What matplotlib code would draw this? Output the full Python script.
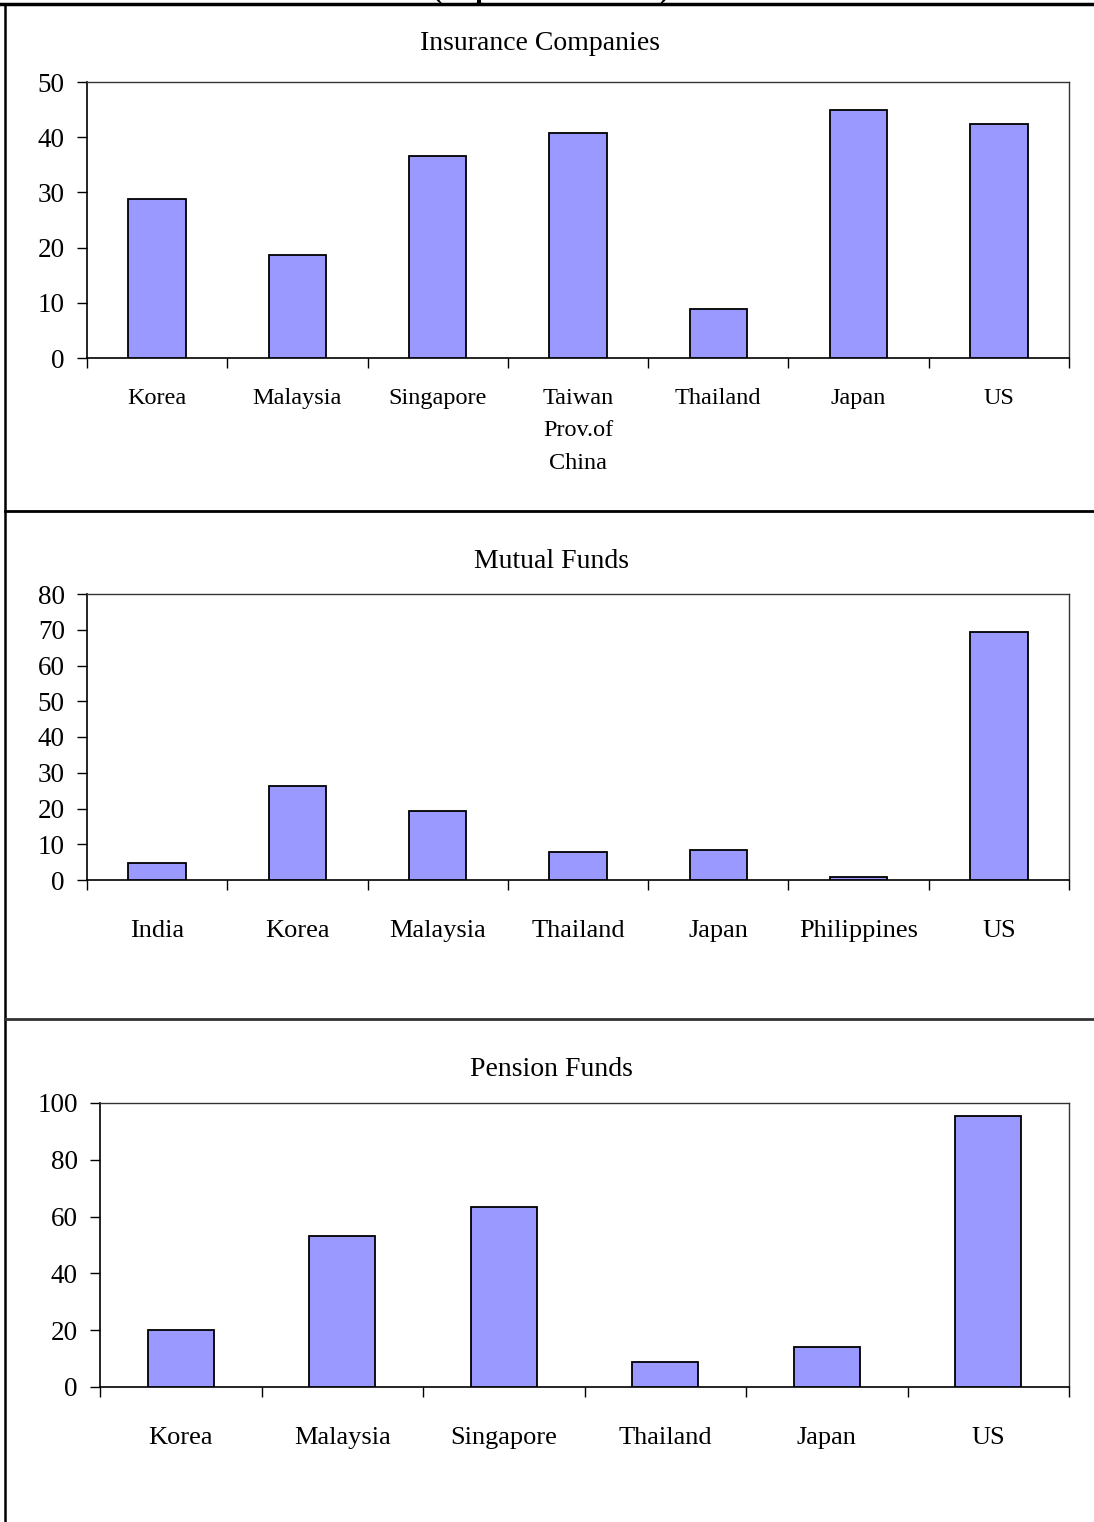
import matplotlib
matplotlib.use("Agg")
import matplotlib.pyplot as plt
from matplotlib.lines import Line2D

plt.rcParams["font.family"] = ["Liberation Serif", "DejaVu Serif"]

# data (in percent of GDP)
ins_labels = ["Korea", "Malaysia", "Singapore", "Taiwan\nProv.of\nChina", "Thailand", "Japan", "US"]
ins_values = [28.8, 18.7, 36.6, 40.8, 8.9, 44.9, 42.4]

mf_labels = ["India", "Korea", "Malaysia", "Thailand", "Japan", "Philippines", "US"]
mf_values = [4.8, 26.3, 19.3, 7.8, 8.4, 0.8, 69.4]

pf_labels = ["Korea", "Malaysia", "Singapore", "Thailand", "Japan", "US"]
pf_values = [20.1, 53.2, 63.4, 8.8, 14.1, 95.4]

W, H = 1094, 1522
fig = plt.figure(figsize=(W / 100, H / 100), dpi=100)


def px_axes(left, top, right, bottom):
    return fig.add_axes([left / W, 1 - bottom / H, (right - left) / W, (bottom - top) / H])


def draw_panel(ax, labels, values, ymax, ystep, label_size, label_pad):
    n = len(values)
    x = list(range(n))
    ax.bar(x, values, width=0.41, color="#9999ff", edgecolor="black", linewidth=1.3, zorder=3)
    ax.set_xlim(-0.5, n - 0.5)
    ax.set_ylim(0, ymax)
    ax.set_yticks(range(0, ymax + 1, ystep))
    ax.set_xticks(x)
    ax.set_xticklabels(labels, fontsize=label_size, linespacing=1.72)
    ax.set_xticks([i - 0.5 for i in range(n + 1)], minor=True)
    ax.tick_params(axis="x", which="major", length=0, pad=label_pad)
    ax.tick_params(axis="x", which="minor", length=7, width=1, direction="out")
    ax.tick_params(axis="y", length=7, width=1, direction="out", pad=9, labelsize=19.5)
    for side in ["left", "bottom"]:
        ax.spines[side].set_linewidth(1.2)
    for side in ["top", "right"]:
        ax.spines[side].set_linewidth(1.0)
        ax.spines[side].set_color("#333333")


ax1 = px_axes(87, 82, 1069, 358)
draw_panel(ax1, ins_labels, ins_values, 50, 10, 17.5, 21.5)
fig.text(540 / W, 1 - 44 / H, "Insurance Companies", ha="center", va="center", fontsize=20)

ax2 = px_axes(87, 594, 1069, 880)
draw_panel(ax2, mf_labels, mf_values, 80, 10, 19, 28.5)
fig.text(551 / W, 1 - 562 / H, "Mutual Funds", ha="center", va="center", fontsize=20)

ax3 = px_axes(100, 1103, 1069, 1387)
draw_panel(ax3, pf_labels, pf_values, 100, 20, 19, 28.5)
fig.text(551 / W, 1 - 1069 / H, "Pension Funds", ha="center", va="center", fontsize=20)

# heading at the very top, cut off by the page edge as in the source
fig.text(551 / W, 1 + 2 / H, "(In percent of GDP)", ha="center", va="baseline",
         fontsize=20, fontweight="bold")

# frame lines around the panels
fig.add_artist(Line2D([0, 1], [1 - 4 / H, 1 - 4 / H], color="black", linewidth=2.5))
fig.add_artist(Line2D([5 / W, 5 / W], [0, 1 - 4 / H], color="black", linewidth=1.8))
fig.add_artist(Line2D([5 / W, 1], [1 - 511 / H, 1 - 511 / H], color="black", linewidth=2))
fig.add_artist(Line2D([5 / W, 1], [1 - 1019 / H, 1 - 1019 / H], color="#333333", linewidth=2))

plt.savefig("out.png", dpi=100)
